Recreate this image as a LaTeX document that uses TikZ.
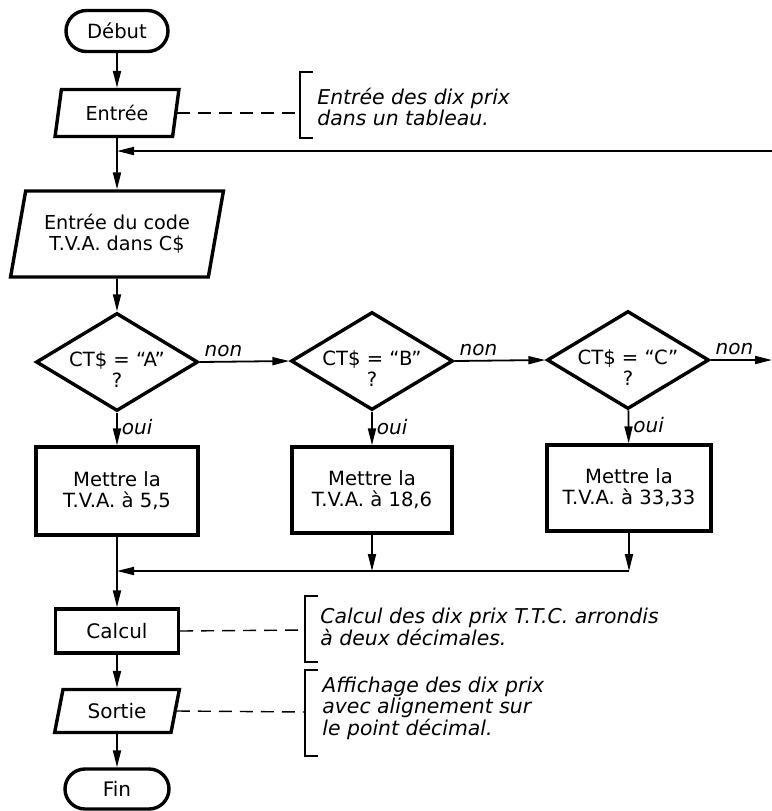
\documentclass[tikz,border=0pt]{standalone}
\usepackage{fontspec}
\setmainfont{DejaVu Sans}
\usetikzlibrary{shapes.geometric, shapes.misc, arrows.meta, positioning, calc}
\tikzset{
  % Box styles
  termbox/.style={rounded rectangle, draw, line width=1.7pt, minimum width=53pt, minimum height=20.5pt, inner sep=1pt, font=\fontsize{9.8}{11}\selectfont},
  iobox/.style={trapezium, trapezium stretches=true, draw, line width=1.7pt, inner sep=1pt, align=center, font=\fontsize{9.6}{10.5}\selectfont},
  procbox/.style={rectangle, draw, line width=1.7pt, inner sep=1pt, align=center, font=\fontsize{9.8}{10.6}\selectfont},
  testbox/.style={diamond, draw, line width=1.7pt, minimum width=81pt, minimum height=49pt, inner sep=0pt},
  testtext/.style={align=center, font=\fontsize{9.8}{10.5}\selectfont, yshift=-4pt},
  notetext/.style={anchor=west, align=left, inner sep=0pt, font=\itshape\fontsize{10.2}{10.8}\selectfont},
  branchlabel/.style={font=\itshape\fontsize{10}{12}\selectfont, inner sep=2pt},
  % Line styles
  arrow/.style={-{Triangle[length=8.5pt,width=4pt]}, line width=0.9pt},
  noteline/.style={dash pattern=on 6.5pt off 4pt, line width=0.7pt},
  bracketline/.style={line width=0.7pt}
}

\begin{document}
\begin{tikzpicture}[x=0.5pt, y=-0.5pt]
  \useasboundingbox (0,0) rectangle (772,811);

  % Main column
  \node[termbox] (debut) at (117,31) {Début};
  \node[iobox, trapezium left angle=79, trapezium right angle=101, minimum width=62pt, minimum height=23.5pt] (entree) at (117,113) {Entrée};
  \node[iobox, trapezium left angle=74, trapezium right angle=106, minimum width=107pt, minimum height=43pt] (code) at (117,234) {Entrée du code\\T.V.A. dans C\$};

  % Tests
  \node[testbox] (testA) at (117,362) {};
  \node[testbox] (testB) at (372,361) {};
  \node[testbox] (testC) at (628,360) {};
  \node[testtext] (qA) at (testA) {CT\$ = “A”\\?};
  \node[testtext] (qB) at (testB) {CT\$ = “B”\\?};
  \node[testtext] (qC) at (testC) {CT\$ = “C”\\?};

  % Rates
  \node[procbox, minimum width=81pt, minimum height=44pt] (tauxA) at (117,491) {Mettre la\\T.V.A. à 5,5};
  \node[procbox, minimum width=80pt, minimum height=43pt] (tauxB) at (372,490) {Mettre la\\T.V.A. à 18,6};
  \node[procbox, minimum width=82pt, minimum height=43pt] (tauxC) at (629,488) {Mettre la\\T.V.A. à 33,33};

  \node[procbox, minimum width=61.5pt, minimum height=22pt, font=\fontsize{10}{11}\selectfont] (calcul) at (117,631) {Calcul};
  \node[iobox, trapezium left angle=76, trapezium right angle=104, minimum width=62.5pt, minimum height=21.5pt, font=\fontsize{10}{11}\selectfont] (sortie) at (117,711) {Sortie};
  \node[termbox, minimum width=54pt, minimum height=20pt, font=\fontsize{10}{11}\selectfont] (fin) at (117,789) {Fin};

  % Comments
  \node[notetext] (noteEntree) at (317,107) {Entrée des dix prix\\dans un tableau.};
  \node[notetext] (noteCalcul) at (320,627) {Calcul des dix prix T.T.C. arrondis\\à deux décimales.};
  \node[notetext] (noteSortie) at (322,708) {Affichage des dix prix\\avec alignement sur\\le point décimal.};
  \coordinate (brEntree) at (300,113);
  \coordinate (brCalcul) at (305,630);
  \coordinate (brSortie) at (305,712);

  % Loop and merge points
  \coordinate (retour) at (772,151);
  \coordinate (suite) at (772,360);
  \coordinate (merge) at (117,571);

  % Arrows
  \draw[arrow] (debut) -- (entree);
  \draw[arrow] (entree) -- (code);
  \draw[arrow] (retour) -- (retour -| entree.south);
  \draw[arrow] (code) -- (testA);
  \draw[arrow] (testA.east) -- node[branchlabel, pos=0, above right] {non} (testB.west);
  \draw[arrow] (testB.east) -- node[branchlabel, pos=0, above right] {non} (testC.west);
  \draw[arrow] (testC.east) -- node[branchlabel, pos=0, above right] {non} (suite);
  \draw[arrow] (testA) -- node[branchlabel, pos=0.45, right] {oui} (tauxA);
  \draw[arrow] (testB) -- node[branchlabel, pos=0.45, right] {oui} (tauxB);
  \draw[arrow] (testC) -- node[branchlabel, pos=0.45, right] {oui} (tauxC);
  \draw[arrow] (tauxA) -- (calcul);
  \draw[arrow] (tauxB) -- (tauxB |- merge);
  \draw[arrow] (tauxC) -- (tauxC |- merge);
  \draw[arrow] (tauxC |- merge) -- (merge);
  \draw[arrow] (calcul) -- (sortie);
  \draw[arrow] (sortie) -- (fin);

  % Comment links
  \draw[noteline] (entree.east) -- (brEntree);
  \draw[noteline] (calcul.east) -- (brCalcul);
  \draw[noteline] (sortie.east) -- (brSortie);
  \draw[bracketline] ($(brEntree)+(13,-41)$) -- ++(-13,0) -- ++(0,66) -- ++(13,0);
  \draw[bracketline] ($(brCalcul)+(13,-34)$) -- ++(-13,0) -- ++(0,66) -- ++(13,0);
  \draw[bracketline] ($(brSortie)+(13,-42)$) -- ++(-13,0) -- ++(0,86) -- ++(13,0);
\end{tikzpicture}
\end{document}
